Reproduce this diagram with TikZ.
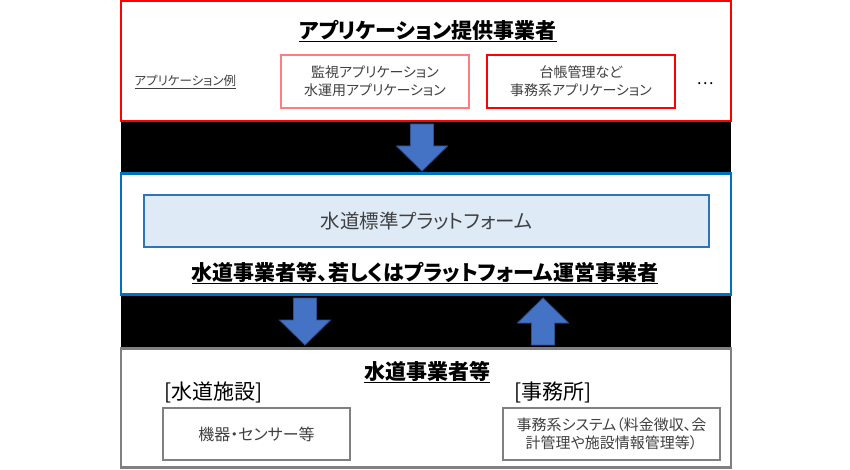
\documentclass[tikz,border=0pt]{standalone}
\usepackage{fontspec}
\setmainfont{Noto Sans CJK JP}[RawFeature=+palt]
\usepackage{tikz}
\usetikzlibrary{positioning}
\usepackage{xcolor}
\definecolor{bandred}{HTML}{FF0000}
\definecolor{softred}{HTML}{FF7C80}
\definecolor{opblue}{HTML}{0070C0}
\definecolor{pfblue}{HTML}{2E75B6}
\definecolor{pffill}{HTML}{DEEBF7}
\definecolor{utilgray}{HTML}{808080}
\definecolor{txtgray}{HTML}{404040}
\definecolor{arrowblue}{HTML}{4472C4}
\definecolor{arrowedge}{HTML}{2F528F}

\begin{document}
\begin{tikzpicture}[
    x=1pt, y=-1pt,
    layer/.style={draw, fill=white, line width=2.4pt, minimum width=610pt},
    appbox/.style={line width=1.2pt, minimum width=188pt, minimum height=53pt, align=center, text=txtgray, font=\fontsize{14}{18}\selectfont},
    unitbox/.style={draw=utilgray, line width=1.2pt, minimum height=52pt, align=center, text=txtgray},
    title/.style={font=\fontsize{21}{24}\selectfont\bfseries},
    lbl/.style={font=\fontsize{21}{24}\selectfont, anchor=west},
    barrow/.pic={\draw[fill=arrowblue, draw=arrowedge, line width=0.8pt] (-11.5,0) -- (11.5,0) -- (11.5,22) -- (25.5,22) -- (0,47) -- (-25.5,22) -- (-11.5,22) -- cycle;}
]
    \useasboundingbox (0,0) rectangle (850,470);

    % 黒い帯
    \fill[black] (121,122) rectangle (731,348);

    % アプリケーション提供事業者
    \node[layer, draw=bandred, minimum height=120pt] (provider) at (426,61) {};
    \node[title] (providertitle) at (428,31) {\underline{アプリケーション提供事業者}};
    \node[anchor=west, text=txtgray, font=\fontsize{12.5}{15}\selectfont] (applabel) at (131,82) {\underline{アプリケーション例}};
    \node[appbox, draw=softred] (monitorapp) at (375,81.5) {監視アプリケーション\\水運用アプリケーション};
    \node[appbox, draw=bandred] (ledgerapp) at (581,81.5) {台帳管理など\\事務系アプリケーション};
    \node[font=\fontsize{16}{18}\selectfont] (moreapps) at (705,84) {…};

    % 水道事業者等、若しくはプラットフォーム運営事業者
    \node[layer, draw=opblue, minimum height=121pt] (operator) at (426,234) {};
    \node[draw=pfblue, fill=pffill, line width=1.3pt, minimum width=565pt, minimum height=52pt, text=txtgray, font=\fontsize{19.5}{22}\selectfont] (platform) at (426.5,221) {水道標準プラットフォーム};
    \node[title] (operatortitle) at (425,273) {\underline{水道事業者等、若しくはプラットフォーム運営事業者}};

    % 水道事業者等
    \node[layer, draw=utilgray, minimum height=119pt] (utility) at (426,408) {};
    \node[title] (utilitytitle) at (427,372) {\underline{水道事業者等}};
    \node[lbl] (facility) at (161,392) {[水道施設]};
    \node[lbl] (office) at (511,392) {[事務所]};
    \node[unitbox, minimum width=187pt, font=\fontsize{16}{19}\selectfont] (devices) at (256.5,434) {機器・センサー等};
    \node[unitbox, minimum width=217pt, font=\fontsize{15}{18}\selectfont] (officesys) at (611.5,434) {事務系システム（料金徴収、会\\計管理や施設情報管理等）};

    % 矢印
    \pic at (422,124) {barrow};
    \pic at (305,298) {barrow};
    \pic[rotate=180] at (543,345) {barrow};
\end{tikzpicture}
\end{document}
